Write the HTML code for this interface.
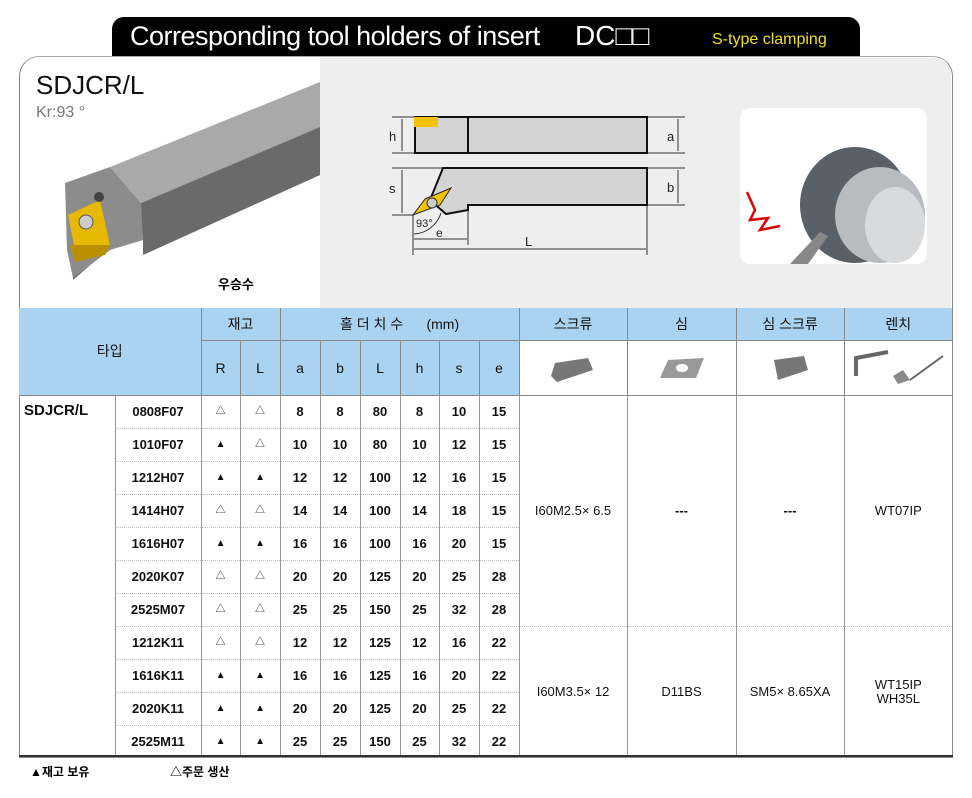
<!DOCTYPE html>
<html><head><meta charset="utf-8">
<style>
body{margin:0;width:972px;height:798px;background:#fff;font-family:"Liberation Sans","Noto Sans CJK KR",sans-serif;position:relative;overflow:hidden}
.abs{position:absolute}
table{border-collapse:collapse;position:absolute;left:19px;top:308px;table-layout:fixed;width:933px}
td{padding:0;text-align:center;font-size:13px;color:#111;font-weight:bold;border-left:1px solid #999;white-space:nowrap;overflow:hidden;line-height:14px}
.hd td{background:#a9d3f1;border-left:1px solid #888;font-weight:normal;font-size:14px}
.br td{height:32px;border-bottom:1px dotted #bbb}
.t{font-size:10px;font-weight:normal}
</style></head><body>
<div class="abs" style="left:112px;top:17px;width:748px;height:40px;background:#000;border-radius:12px 12px 0 0"></div>
<div class="abs" style="left:130px;top:21px;color:#fff;font-size:27px;letter-spacing:-0.5px">Corresponding tool holders of insert</div>
<div class="abs" style="left:575px;top:20px;color:#fff;font-size:28px">DC□□</div>
<div class="abs" style="left:712px;top:31px;color:#f0e020;font-size:16px">S-type clamping</div>
<div class="abs" style="left:19px;top:56px;width:932px;height:700px;border:1.5px solid #888;border-top-color:#aaa;border-radius:20px 20px 0 0;background:#fff"></div>
<div class="abs" style="left:320px;top:58px;width:631px;height:250px;background:#eeeeee;border-radius:0 18px 0 0"></div>
<div class="abs" style="left:36px;top:70px;font-size:26px;color:#111">SDJCR/L</div>
<div class="abs" style="left:36px;top:104px;font-size:16px;color:#777">Kr:93 °</div>
<div class="abs" style="left:218px;top:274px;font-size:13px;font-weight:bold">우승수</div>
<svg class="abs" style="left:0;top:0" width="972" height="310">
 <polygon points="110,167 320,82 320,127 141,203" fill="#a9a9a9"/>
 <polygon points="141,203 320,127 320,175 143,255 143,236 110,248 73,280 73,205" fill="#6a6a6a"/>
 <polygon points="65,183 110,167 141,203 143,240 110,250 73,278 67,250" fill="#8c8c8c"/>
 <polygon points="68,215 100,200 110,245 75,250" fill="#e6b800"/>
 <polygon points="70,245 110,245 105,255 75,262" fill="#b89000"/>
 <circle cx="86" cy="222" r="7" fill="#ccc" stroke="#555"/>
 <circle cx="99" cy="197" r="5" fill="#444"/>
 <g stroke="#333" stroke-width="1" fill="none">
  <line x1="392" y1="117" x2="415" y2="117"/><line x1="392" y1="153" x2="415" y2="153"/>
  <line x1="402" y1="119" x2="402" y2="151"/>
  <line x1="647" y1="117" x2="685" y2="117"/><line x1="647" y1="153" x2="685" y2="153"/>
  <line x1="678" y1="119" x2="678" y2="151"/>
  <line x1="392" y1="168" x2="443" y2="168"/><line x1="392" y1="215" x2="413" y2="215"/>
  <line x1="402" y1="170" x2="402" y2="213"/>
  <line x1="647" y1="168" x2="685" y2="168"/><line x1="647" y1="205" x2="685" y2="205"/>
  <line x1="678" y1="170" x2="678" y2="203"/>
  <line x1="413" y1="215" x2="413" y2="255"/><line x1="468" y1="205" x2="468" y2="245"/><line x1="647" y1="205" x2="647" y2="255"/>
  <line x1="414" y1="239" x2="467" y2="239"/><line x1="414" y1="249" x2="646" y2="249"/>
  <path d="M441 213 A30 30 0 0 1 414 234"/>
 </g>
 <rect x="415" y="117" width="232" height="36" fill="#d4d4d4" stroke="#111" stroke-width="2"/>
 <line x1="468" y1="117" x2="468" y2="153" stroke="#111" stroke-width="2"/>
 <rect x="414" y="117" width="24" height="10" fill="#f2c200"/>
 <polygon points="443,168 647,168 647,205 468,205 468,210 446,214 430,200" fill="#d4d4d4" stroke="#111" stroke-width="2"/>
 <polygon points="413,215 425,199 451,188 440,205" fill="#f2c200" stroke="#222"/>
 <circle cx="432" cy="203" r="5" fill="#ccc" stroke="#333"/>
 <text x="389" y="141" font-size="13" fill="#222">h</text><text x="667" y="141" font-size="13" fill="#222">a</text>
 <text x="389" y="193" font-size="13" fill="#222">s</text><text x="667" y="192" font-size="13" fill="#222">b</text>
 <text x="416" y="227" font-size="11" fill="#222">93°</text><text x="436" y="237" font-size="12" fill="#222">e</text>
 <text x="525" y="246" font-size="13" fill="#222">L</text>
 <rect x="740" y="108" width="187" height="156" rx="10" fill="#fff"/>
 <ellipse cx="855" cy="205" rx="55" ry="58" fill="#5a6068"/>
 <ellipse cx="880" cy="215" rx="45" ry="48" fill="#b8bcc0"/>
 <ellipse cx="895" cy="225" rx="30" ry="38" fill="#d8dadc"/>
 <polygon points="790,264 820,232 828,236 808,264" fill="#888"/>
 <polyline points="747,192 755,210 750,220 768,218 760,230 780,226" fill="none" stroke="#d00" stroke-width="2.5"/>
</svg>
<table>
<colgroup><col style="width:96px"><col style="width:86px"><col style="width:39px"><col style="width:40px"><col style="width:40px"><col style="width:40px"><col style="width:40px"><col style="width:39px"><col style="width:40px"><col style="width:40px"><col style="width:108px"><col style="width:109px"><col style="width:108px"><col style="width:108px"></colgroup>
<tr class="hd" style="height:32px"><td colspan="2" rowspan="2" style="border-left:none;border-bottom:1px solid #888">타입</td><td colspan="2">재고</td><td colspan="6">홀 더 치 수 &nbsp;&nbsp;&nbsp;&nbsp;&nbsp;(mm)</td><td>스크류</td><td>심</td><td>심 스크류</td><td>렌치</td></tr>
<tr class="hd" style="height:55px;border-bottom:1px solid #888"><td style="border-top:1px solid #888">R</td><td style="border-top:1px solid #888">L</td><td style="border-top:1px solid #888">a</td><td style="border-top:1px solid #888">b</td><td style="border-top:1px solid #888">L</td><td style="border-top:1px solid #888">h</td><td style="border-top:1px solid #888">s</td><td style="border-top:1px solid #888">e</td>
<td style="background:#fff;border-top:1px solid #888"><svg width="60" height="40" style="display:block;margin:auto"><polygon points="8,28 12,15 45,10 50,22 14,34" fill="#777"/></svg></td>
<td style="background:#fff;border-top:1px solid #888"><svg width="60" height="40" style="display:block;margin:auto"><polygon points="8,30 16,12 52,10 44,30" fill="#999"/><ellipse cx="30" cy="20" rx="6" ry="4" fill="#fff"/></svg></td>
<td style="background:#fff;border-top:1px solid #888"><svg width="60" height="40" style="display:block;margin:auto"><polygon points="14,12 44,8 48,22 18,32" fill="#777"/></svg></td>
<td style="background:#fff;border-top:1px solid #888"><svg width="100" height="40" style="display:block;margin:auto"><polyline points="8,28 8,10 40,4" fill="none" stroke="#666" stroke-width="4"/><polygon points="45,28 55,22 62,32 50,36" fill="#888"/><line x1="62" y1="32" x2="95" y2="8" stroke="#666" stroke-width="2"/></svg></td></tr>
<tr class="br"><td style="border-left:none;border-bottom:none;text-align:left;vertical-align:top;padding:8px 0 0 5px;font-size:15px" rowspan="11">SDJCR/L</td><td>0808F07</td><td class="t">△</td><td class="t">△</td><td>8</td><td>8</td><td>80</td><td>8</td><td>10</td><td>15</td>
<td rowspan="7" style="font-weight:normal">I60M2.5× 6.5</td><td rowspan="7">---</td><td rowspan="7">---</td><td rowspan="7" style="font-weight:normal">WT07IP</td></tr>
<tr class="br"><td>1010F07</td><td class="t">▲</td><td class="t">△</td><td>10</td><td>10</td><td>80</td><td>10</td><td>12</td><td>15</td></tr>
<tr class="br"><td>1212H07</td><td class="t">▲</td><td class="t">▲</td><td>12</td><td>12</td><td>100</td><td>12</td><td>16</td><td>15</td></tr>
<tr class="br"><td>1414H07</td><td class="t">△</td><td class="t">△</td><td>14</td><td>14</td><td>100</td><td>14</td><td>18</td><td>15</td></tr>
<tr class="br"><td>1616H07</td><td class="t">▲</td><td class="t">▲</td><td>16</td><td>16</td><td>100</td><td>16</td><td>20</td><td>15</td></tr>
<tr class="br"><td>2020K07</td><td class="t">△</td><td class="t">△</td><td>20</td><td>20</td><td>125</td><td>20</td><td>25</td><td>28</td></tr>
<tr class="br"><td>2525M07</td><td class="t">△</td><td class="t">△</td><td>25</td><td>25</td><td>150</td><td>25</td><td>32</td><td>28</td></tr>
<tr class="br"><td>1212K11</td><td class="t">△</td><td class="t">△</td><td>12</td><td>12</td><td>125</td><td>12</td><td>16</td><td>22</td>
<td rowspan="4" style="font-weight:normal;border-bottom:none">I60M3.5× 12</td><td rowspan="4" style="font-weight:normal;border-bottom:none">D11BS</td><td rowspan="4" style="font-weight:normal;border-bottom:none">SM5× 8.65XA</td><td rowspan="4" style="font-weight:normal;border-bottom:none">WT15IP<br>WH35L</td></tr>
<tr class="br"><td>1616K11</td><td class="t">▲</td><td class="t">▲</td><td>16</td><td>16</td><td>125</td><td>16</td><td>20</td><td>22</td></tr>
<tr class="br"><td>2020K11</td><td class="t">▲</td><td class="t">▲</td><td>20</td><td>20</td><td>125</td><td>20</td><td>25</td><td>22</td></tr>
<tr class="br"><td style="border-bottom:none">2525M11</td><td class="t" style="border-bottom:none">▲</td><td class="t" style="border-bottom:none">▲</td><td style="border-bottom:none">25</td><td style="border-bottom:none">25</td><td style="border-bottom:none">150</td><td style="border-bottom:none">25</td><td style="border-bottom:none">32</td><td style="border-bottom:none">22</td></tr>
</table>
<div class="abs" style="left:19px;top:755px;width:934px;height:2px;background:#333"></div>
<div class="abs" style="left:30px;top:763px;font-size:12px;font-weight:bold">▲재고 보유</div>
<div class="abs" style="left:170px;top:763px;font-size:12px;font-weight:bold">△주문 생산</div>
</body></html>
